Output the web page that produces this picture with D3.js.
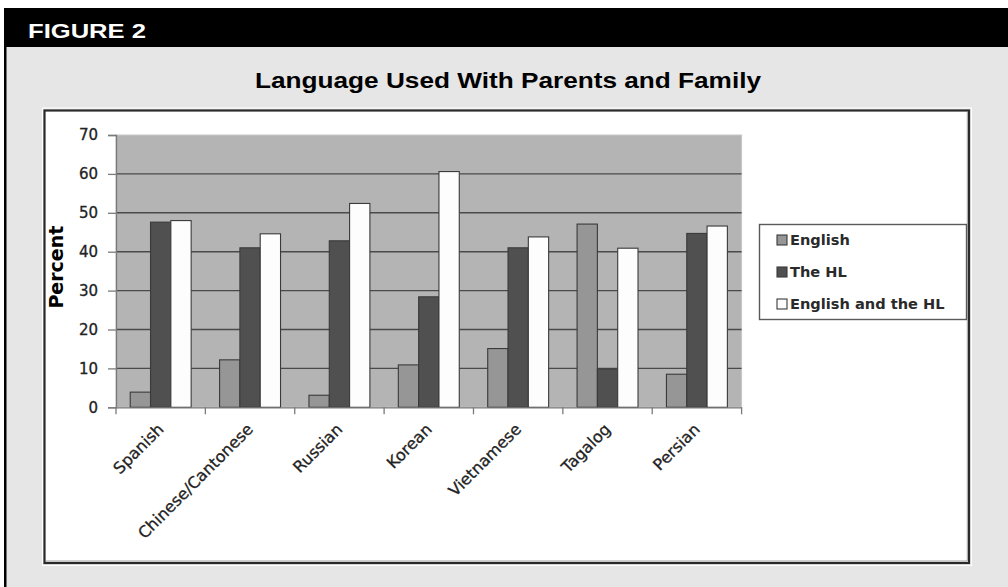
<!DOCTYPE html>
<html>
<head>
<meta charset="utf-8">
<script src="https://cdn.jsdelivr.net/npm/d3@7"></script>
<style>
  html, body { margin: 0; padding: 0; background: #ffffff; }
  svg { display: block; }
</style>
</head>
<body>
<svg id="chart" width="1008" height="587"></svg>
<script>
// ---- data ----
const categories = ["Spanish", "Chinese/Cantonese", "Russian", "Korean", "Vietnamese", "Tagalog", "Persian"];
const seriesNames = ["English", "The HL", "English and the HL"];
const englishValues = [3.9, 12.2, 3.1, 10.9, 15.1, 47.1, 8.5];
const hlValues = [47.6, 41.0, 42.8, 28.4, 41.0, 9.8, 44.7];
const bothValues = [48.0, 44.6, 52.4, 60.6, 43.8, 40.9, 46.6];
const yTicks = [0, 10, 20, 30, 40, 50, 60, 70];
const figureLabel = "FIGURE 2";
const chartTitle = "Language Used With Parents and Family";
const yAxisTitle = "Percent";

const seriesValues = [englishValues, hlValues, bothValues];
const seriesColors = ["#969696", "#505050", "#fdfdfd"];
const axisFont = "'DejaVu Sans', Verdana, sans-serif";
const headFont = "'Liberation Sans', Arial, Helvetica, sans-serif";

const svg = d3.select("#chart");

// ---- frame ----
svg.append("rect").attr("x", 4).attr("y", 8).attr("width", 1004).attr("height", 579).attr("fill", "#e6e6e6");
svg.append("rect").attr("x", 4).attr("y", 8).attr("width", 1004).attr("height", 39).attr("fill", "#000");
svg.append("rect").attr("x", 4).attr("y", 8).attr("width", 2.5).attr("height", 579).attr("fill", "#000");

svg.append("text").attr("x", 28).attr("y", 37.5)
  .attr("font-family", headFont).attr("font-weight", "bold")
  .attr("font-size", 21).attr("fill", "#fff")
  .attr("textLength", 118).attr("lengthAdjust", "spacingAndGlyphs")
  .text(figureLabel);

svg.append("text").attr("x", 255).attr("y", 88)
  .attr("font-family", headFont).attr("font-weight", "bold")
  .attr("font-size", 22).attr("fill", "#000")
  .attr("textLength", 506).attr("lengthAdjust", "spacingAndGlyphs")
  .text(chartTitle);

// chart box
svg.append("rect").attr("x", 42.5).attr("y", 108).attr("width", 929).attr("height", 457.5)
  .attr("fill", "none").attr("stroke", "#fff").attr("stroke-width", 1);
svg.append("rect").attr("x", 44.5).attr("y", 110.5).attr("width", 924.5).attr("height", 452.5)
  .attr("fill", "#fff").attr("stroke", "#2a2a2a").attr("stroke-width", 2.2);
svg.append("line").attr("x1", 46).attr("x2", 967).attr("y1", 561).attr("y2", 561).attr("stroke", "#a0a0a0").attr("stroke-width", 1);
svg.append("line").attr("x1", 967.3).attr("x2", 967.3).attr("y1", 112).attr("y2", 561).attr("stroke", "#a0a0a0").attr("stroke-width", 1);

// ---- plot ----
const plot = { left: 116, right: 741.6, top: 135, bottom: 407.3 };
const x = d3.scaleBand().domain(categories).range([plot.left, plot.right]).padding(0);
const xInner = d3.scaleBand().domain(seriesNames).range([0, x.bandwidth()]).paddingInner(0).paddingOuter(0.7);
const y = d3.scaleLinear().domain([0, 70]).range([plot.bottom, plot.top]);

svg.append("rect").attr("x", plot.left).attr("y", plot.top)
  .attr("width", plot.right - plot.left).attr("height", plot.bottom - plot.top)
  .attr("fill", "#b4b4b4").attr("stroke", "#c8c8c8").attr("stroke-width", 1);

// gridlines
svg.append("g").selectAll("line").data(yTicks.filter(d => d > 0 && d < 70)).join("line")
  .attr("x1", plot.left).attr("x2", plot.right)
  .attr("y1", d => y(d)).attr("y2", d => y(d))
  .attr("stroke", "#4a4a4a").attr("stroke-width", 1.4);

// bars
const groups = svg.append("g").selectAll("g").data(categories).join("g")
  .attr("transform", d => `translate(${x(d)},0)`);
groups.selectAll("rect").data((c, i) => seriesNames.map((s, j) => ({ s, j, v: seriesValues[j][i] })))
  .join("rect")
  .attr("x", d => xInner(d.s))
  .attr("width", xInner.bandwidth())
  .attr("y", d => y(d.v))
  .attr("height", d => y(0) - y(d.v))
  .attr("fill", d => seriesColors[d.j])
  .attr("stroke", "#3a3a3a").attr("stroke-width", 1.1);

// y axis
const yAxis = d3.axisLeft(y).tickValues(yTicks).tickSize(8).tickPadding(10).tickFormat(d3.format("d"));
const gy = svg.append("g").attr("transform", `translate(${plot.left},0)`).call(yAxis);
gy.select(".domain").attr("stroke", "#7a7a7a").attr("stroke-width", 1.3);
gy.selectAll(".tick line").attr("stroke", "#7a7a7a").attr("stroke-width", 1.3);
gy.selectAll(".tick text").attr("font-family", axisFont)
  .attr("font-size", 15).attr("fill", "#222").attr("stroke", "#222").attr("stroke-width", 0.3);

// x axis
const xAxis = d3.axisBottom(x).tickSize(0).tickPadding(0);
const gx = svg.append("g").attr("transform", `translate(0,${plot.bottom})`).call(xAxis);
gx.select(".domain").attr("stroke", "#7a7a7a").attr("stroke-width", 1.3);
gx.selectAll(".tick text")
  .attr("font-family", axisFont)
  .attr("font-size", 16).attr("fill", "#222").attr("stroke", "#222").attr("stroke-width", 0.3)
  .attr("text-anchor", "end")
  .attr("dy", 0)
  .attr("transform", "translate(4,23) rotate(-45)");
// boundary ticks
const boundaries = categories.map(c => x(c)).concat([plot.right]);
svg.append("g").selectAll("line").data(boundaries).join("line")
  .attr("x1", d => d).attr("x2", d => d)
  .attr("y1", plot.bottom).attr("y2", plot.bottom + 7)
  .attr("stroke", "#7a7a7a").attr("stroke-width", 1.3);

// y title
svg.append("text").attr("transform", `translate(63,${(plot.top + plot.bottom) / 2 - 4}) rotate(-90)`)
  .attr("text-anchor", "middle")
  .attr("font-family", axisFont).attr("font-weight", "bold")
  .attr("font-size", 19).attr("fill", "#000").text(yAxisTitle);

// legend
const legend = svg.append("g");
legend.append("rect").attr("x", 759.5).attr("y", 224.5).attr("width", 207).attr("height", 95)
  .attr("fill", "#fff").attr("stroke", "#5a5a5a").attr("stroke-width", 1.4);
const legY = d3.scalePoint().domain(seriesNames).range([240, 304]);
const items = legend.selectAll("g.item").data(seriesNames).join("g").attr("class", "item")
  .attr("transform", d => `translate(0,${legY(d)})`);
items.append("rect").attr("x", 777).attr("y", -5).attr("width", 10).attr("height", 10)
  .attr("fill", (d, i) => seriesColors[i]).attr("stroke", "#3a3a3a").attr("stroke-width", 1.1);
items.append("text").attr("x", 790).attr("y", 0).attr("dy", "0.36em")
  .attr("font-family", axisFont).attr("font-weight", "bold")
  .attr("font-size", 14.6).attr("fill", "#2a2a2a").text(d => d);
</script>
</body>
</html>
